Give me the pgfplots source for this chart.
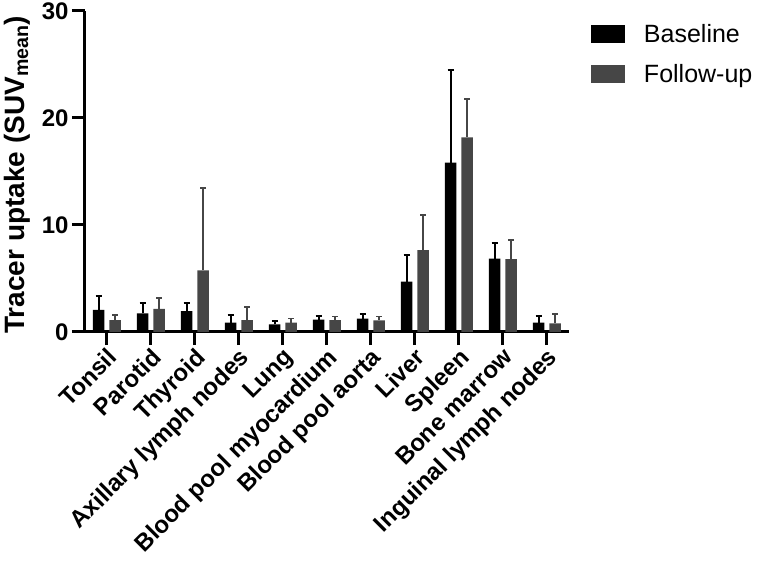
\documentclass[border=0pt]{standalone}
\usepackage{fontspec}
\setmainfont{Liberation Sans}
\usepackage{pgfplots}
\pgfplotsset{compat=1.18}
\definecolor{basecol}{RGB}{0,0,0}
\definecolor{followcol}{RGB}{70,70,70}

\begin{document}
\begin{tikzpicture}
\begin{axis}[
    scale only axis,
    width=484pt, height=321pt,
    xmin=-0.48, xmax=10.52,
    ymin=0, ymax=30,
    axis x line*=bottom, axis y line*=left,
    axis line style={line width=3pt, -},
    tick style={line width=3pt, black},
    tick align=outside,
    major tick length=13pt,
    xtick={0,...,10},
    xticklabels={Tonsil, Parotid, Thyroid, Axillary lymph nodes, Lung, Blood pool myocardium, Blood pool aorta, Liver, Spleen, Bone marrow, Inguinal lymph nodes},
    ytick={0,10,20,30},
    /pgf/number format/assume math mode=true,
    tick label style={font=\bfseries\fontsize{24}{24}\selectfont},
    xticklabel style={rotate=45, anchor=north east, inner sep=1pt},
    ylabel={\bfseries Tracer uptake (SUV\textsubscript{mean})},
    ylabel style={font=\fontsize{28}{28}\selectfont, at={(axis description cs:-0.14,0.49)}, anchor=center},
    legend style={draw=none, fill=none, at={(axis description cs:1.045,0.965)}, anchor=north west,
        font=\fontsize{25}{25}\selectfont, row sep=16pt, inner sep=0pt,
        /tikz/every odd column/.append style={column sep=17pt}},
    legend cell align=left,
    legend image code/.code={\fill[#1] (0pt,-9pt) rectangle (34pt,9pt);},
]
\addplot[ybar, bar width=11.5pt, bar shift=-7.6pt, fill=basecol, draw=none,
    error bars/.cd, y dir=plus, y explicit,
    error bar style={xshift=-7.6pt, line width=2pt, solid, draw=basecol},
    error mark options={rotate=90, line width=2pt, solid, draw=basecol, mark size=3pt}]
coordinates {
    (0,2.06) +- (0,1.27)
    (1,1.75) +- (0,0.93)
    (2,1.96) +- (0,0.75)
    (3,0.87) +- (0,0.69)
    (4,0.72) +- (0,0.34)
    (5,1.15) +- (0,0.38)
    (6,1.25) +- (0,0.46)
    (7,4.70) +- (0,2.46)
    (8,15.82) +- (0,8.67)
    (9,6.85) +- (0,1.50)
    (10,0.87) +- (0,0.63)
};
\addplot[ybar, bar width=11.5pt, bar shift=9pt, fill=followcol, draw=none,
    error bars/.cd, y dir=plus, y explicit,
    error bar style={xshift=9pt, line width=1.6pt, solid, draw=followcol},
    error mark options={rotate=90, line width=1.6pt, solid, draw=followcol, mark size=3pt}]
coordinates {
    (0,1.12) +- (0,0.48)
    (1,2.15) +- (0,1.00)
    (2,5.76) +- (0,7.70)
    (3,1.12) +- (0,1.19)
    (4,0.87) +- (0,0.38)
    (5,1.12) +- (0,0.34)
    (6,1.09) +- (0,0.37)
    (7,7.66) +- (0,3.30)
    (8,18.20) +- (0,3.60)
    (9,6.82) +- (0,1.78)
    (10,0.81) +- (0,0.87)
};
\legend{Baseline, Follow-up}
\end{axis}
\pgfresetboundingbox
\path (-85pt,-232pt) rectangle (675pt,332pt);
\end{tikzpicture}
\end{document}
